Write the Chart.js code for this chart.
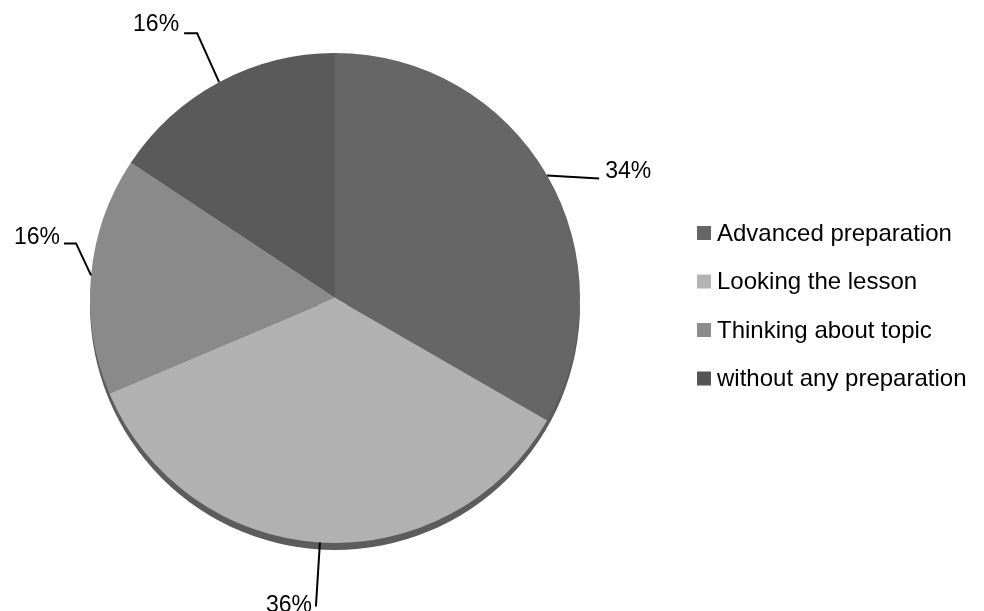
<!DOCTYPE html>
<html>
<head>
<meta charset="utf-8">
<script src="https://cdn.jsdelivr.net/npm/chart.js@4.4.1/dist/chart.umd.min.js"></script>
<style>
  html, body { margin: 0; padding: 0; background: #fff; }
  #wrap { width: 984px; height: 611px; position: relative; }
</style>
</head>
<body>
<div id="wrap"><canvas id="pieChart" width="984" height="611"></canvas></div>
<script>
(function () {
  "use strict";

  // -------------------------
  // Data
  // -------------------------
  const categories = ["Advanced preparation", "Looking the lesson", "Thinking about topic", "without any preparation"];
  const shares = [34, 36, 16, 16];
  const sliceColors = ["#666666", "#b1b1b1", "#8a8a8a", "#5a5a5a"];
  const legendColors = ["#666666", "#b4b4b4", "#8c8c8c", "#555555"];

  const FONT = "'Liberation Sans', Arial, sans-serif";

  // shadow band under the pie (fake 3D edge)
  const shadowPlugin = {
    id: "pieShadow",
    beforeDatasetsDraw(chart) {
      const meta = chart.getDatasetMeta(0);
      if (!meta.data.length) return;
      const arc = meta.data[0];
      const ctx = chart.ctx;
      ctx.save();
      ctx.fillStyle = "#5c5c5c";
      ctx.beginPath();
      ctx.arc(arc.x, arc.y + 7, arc.outerRadius, 0, Math.PI);
      ctx.closePath();
      ctx.fill();
      ctx.restore();
    },
  };

  // percentage labels with leader lines + legend on the right
  const labelPlugin = {
    id: "pieLabels",
    afterDatasetsDraw(chart) {
      const ctx = chart.ctx;
      const meta = chart.getDatasetMeta(0);
      ctx.save();
      ctx.strokeStyle = "#000";
      ctx.lineWidth = 2;
      ctx.fillStyle = "#000";
      ctx.font = "23px " + FONT;
      ctx.textBaseline = "middle";

      meta.data.forEach((arc, i) => {
        const a = (arc.startAngle + arc.endAngle) / 2;
        const r = arc.outerRadius;
        const ex = arc.x + r * Math.cos(a);
        const ey = arc.y + r * Math.sin(a);
        const txt = shares[i] + "%";
        const c = Math.cos(a), s = Math.sin(a);
        ctx.beginPath();
        ctx.moveTo(ex, ey);
        if (c > 0.3) {
          // right side: straight line then text
          ctx.lineTo(ex + 52, ey + 3);
          ctx.stroke();
          ctx.textAlign = "left";
          ctx.fillText(txt, ex + 58, ey - 4);
        } else if (s > 0.8) {
          // bottom: line goes down, text to the left of its end
          ctx.lineTo(ex - 4, ey + 64);
          ctx.stroke();
          ctx.textAlign = "right";
          ctx.fillText(txt, ex - 8, ey + 63);
        } else if (s < -0.8) {
          // top: elbow up-left
          ctx.lineTo(ex - 22, ey - 49);
          ctx.lineTo(ex - 35, ey - 49);
          ctx.stroke();
          ctx.textAlign = "right";
          ctx.fillText(txt, ex - 40, ey - 57);
        } else {
          // left: elbow up-left
          ctx.lineTo(ex - 15, ey - 32);
          ctx.lineTo(ex - 27, ey - 32);
          ctx.stroke();
          ctx.textAlign = "right";
          ctx.fillText(txt, ex - 31, ey - 38);
        }
      });

      // legend
      ctx.textAlign = "left";
      ctx.font = "24px " + FONT;
      categories.forEach((name, i) => {
        const y = 233 + i * 48.5;
        ctx.fillStyle = legendColors[i];
        ctx.fillRect(697, y - 7, 14, 14);
        ctx.fillStyle = "#000";
        ctx.fillText(name, 717, y + 1);
      });
      ctx.restore();
    },
  };

  const el = document.getElementById("pieChart");
  const ctx = el.getContext("2d");

  new Chart(ctx, {
    type: "pie",
    data: {
      labels: categories,
      datasets: [
        {
          data: shares,
          backgroundColor: sliceColors,
          borderWidth: 0,
        },
      ],
    },
    options: {
      responsive: false,
      animation: false,
      layout: { padding: { left: 90, right: 404, top: 53, bottom: 68 } },
      plugins: {
        legend: { display: false },
        tooltip: { enabled: false },
      },
    },
    plugins: [shadowPlugin, labelPlugin],
  });
})();
</script>
</body>
</html>
